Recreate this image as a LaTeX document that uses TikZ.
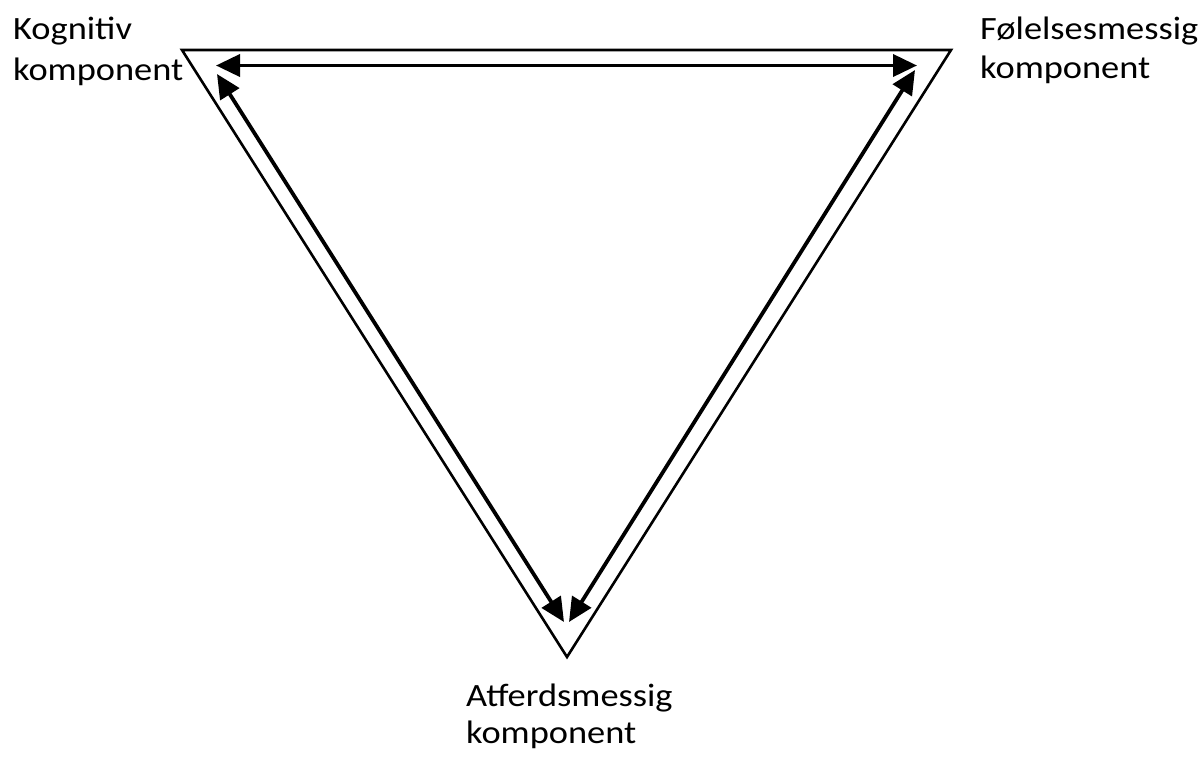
\documentclass[tikz,border=0pt]{standalone}
\usepackage{fontspec}
\setmainfont{Carlito}[FakeStretch=1.12]
\usetikzlibrary{arrows.meta}
\begin{document}
\begin{tikzpicture}[x=1pt,y=-1pt,
  lbl/.style={anchor=base west, inner sep=0pt, font=\fontsize{32.5pt}{39pt}\selectfont},
  tri/.style={line width=2.6pt, line join=miter},
  dbl/.style={line width=3.8pt, {Triangle[length=24pt,width=22pt]}-{Triangle[length=24pt,width=22pt]}}]
\useasboundingbox (0,0) rectangle (1203,756);
% triangle
\coordinate (A) at (182,50);
\coordinate (B) at (951,50);
\coordinate (C) at (567,657);
\draw[tri] (A) -- (B) -- (C) -- cycle;
% arrow ends
\coordinate (t1) at (216,65.5);
\coordinate (t2) at (917,65.5);
\coordinate (l1) at (217,74);
\coordinate (l2) at (564,622);
\coordinate (r1) at (915,70);
\coordinate (r2) at (569,622);
\draw[dbl] (t1) -- (t2);
\draw[dbl] (l1) -- (l2);
\draw[dbl] (r1) -- (r2);
% labels
\node[lbl] (k1) at (13,39) {Kognitiv};
\node[lbl] (k2) at (13,80) {komponent};
\node[lbl] (f1) at (980,39) {Følelsesmessig};
\node[lbl] (f2) at (980,78) {komponent};
\node[lbl] (a1) at (466,706) {Atferdsmessig};
\node[lbl] (a2) at (466,743) {komponent};
\end{tikzpicture}
\end{document}
